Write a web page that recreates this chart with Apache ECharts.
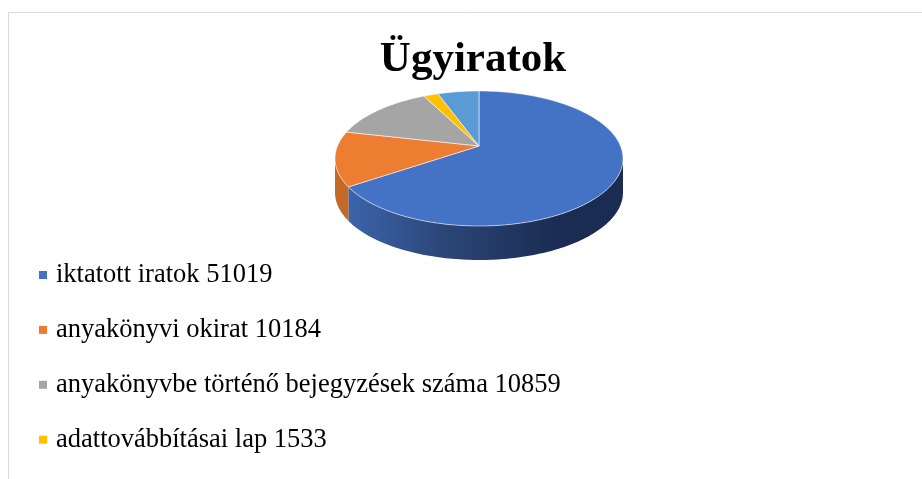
<!DOCTYPE html>
<html>
<head>
<meta charset="utf-8">
<style>html,body{margin:0;padding:0;background:#fff}#c{width:922px;height:479px}</style>
<script src="https://cdn.jsdelivr.net/npm/echarts@6/dist/echarts.min.js"></script>
</head>
<body>
<div id="c"></div>
<script>
const titleText = 'Ügyiratok';
const categories = ['iktatott iratok', 'anyakönyvi okirat', 'anyakönyvbe történő bejegyzések száma', 'adattovábbításai lap', 'további tétel'];
const values = [51019, 10184, 10859, 1533, 4300];
const colors = ['#4472c4', '#ed7d31', '#a5a5a5', '#ffc000', '#5b9bd5'];
const sideColors = ['#2b4677', '#c46a28', '#848484', '#cc9a00', '#497cab'];
const visibleLegendItems = 4;

const total = values.reduce((a, b) => a + b, 0);
const names = categories.map((c, i) => c + ' ' + values[i]);

// perspective projection of the tilted pie disc
const apexX = 479, apexY = 146, bx = 141.5, by = 65.2, persp = 0.185, depth = 34;
const project = (a, dy) => {
  const u = Math.sin(a), v = -Math.cos(a), w = 1 / (1 - persp * v);
  return [apexX + bx * u * w, apexY + by * v * w + (dy || 0)];
};
const arc = (s, e, dy) => {
  const n = Math.max(2, Math.ceil((e - s) / 0.02)), pts = [];
  for (let i = 0; i <= n; i++) pts.push(project(s + (e - s) * i / n, dy));
  return pts;
};
const frontStart = Math.PI / 2 + Math.asin(persp);
const frontEnd = 3 * Math.PI / 2 - Math.asin(persp);

const sideFill = i => i === 0
  ? new echarts.graphic.LinearGradient(348, 0, 560, 0, [
      { offset: 0, color: '#3c64ab' },
      { offset: 0.45, color: '#2b4677' },
      { offset: 1, color: '#1a2c52' }
    ], true)
  : sideColors[i];

let running = 0;
const series = values.map((v, i) => {
  const s = running / total * 2 * Math.PI;
  running += v;
  const e = running / total * 2 * Math.PI;
  return {
    type: 'custom',
    name: names[i],
    coordinateSystem: 'none',
    silent: true,
    itemStyle: { color: colors[i] },
    data: [v],
    renderItem: () => {
      const children = [];
      const fs = Math.max(s, frontStart), fe = Math.min(e, frontEnd);
      if (fe > fs) {
        const top = arc(fs, fe, 0), bottom = arc(fs, fe, depth).reverse();
        children.push({
          type: 'polygon',
          shape: { points: top.concat(bottom) },
          style: { fill: sideFill(i), stroke: null }
        });
      }
      children.push({
        type: 'polygon',
        z2: 5,
        shape: { points: [[apexX, apexY]].concat(arc(s, e, 0)) },
        style: { fill: colors[i], stroke: 'rgba(255,255,255,0.55)', lineWidth: 1, lineJoin: 'round' }
      });
      return { type: 'group', children };
    }
  };
});

const chart = echarts.init(document.getElementById('c'), null, { renderer: 'canvas' });
chart.setOption({
  animation: false,
  backgroundColor: '#ffffff',
  title: {
    text: titleText,
    left: 473,
    top: 38,
    padding: 0,
    textAlign: 'center',
    textStyle: { fontFamily: 'Liberation Serif', fontWeight: 'bold', fontSize: 43, color: '#000' }
  },
  legend: {
    orient: 'vertical',
    left: 39,
    top: 257,
    padding: 0,
    data: names.slice(0, visibleLegendItems),
    icon: 'rect',
    itemWidth: 8,
    itemHeight: 8,
    itemGap: 18.9,
    textStyle: { fontFamily: 'Liberation Serif', fontSize: 26.5, color: '#000', padding: [11, 0, 0, 4], lineHeight: 25 }
  },
  graphic: [
    { type: 'line', silent: true, shape: { x1: 8.5, y1: 12.5, x2: 922, y2: 12.5 }, style: { stroke: '#d9d9d9', lineWidth: 1 } },
    { type: 'line', silent: true, shape: { x1: 8.5, y1: 12.5, x2: 8.5, y2: 479 }, style: { stroke: '#d9d9d9', lineWidth: 1 } }
  ],
  series
});
</script>
</body>
</html>
